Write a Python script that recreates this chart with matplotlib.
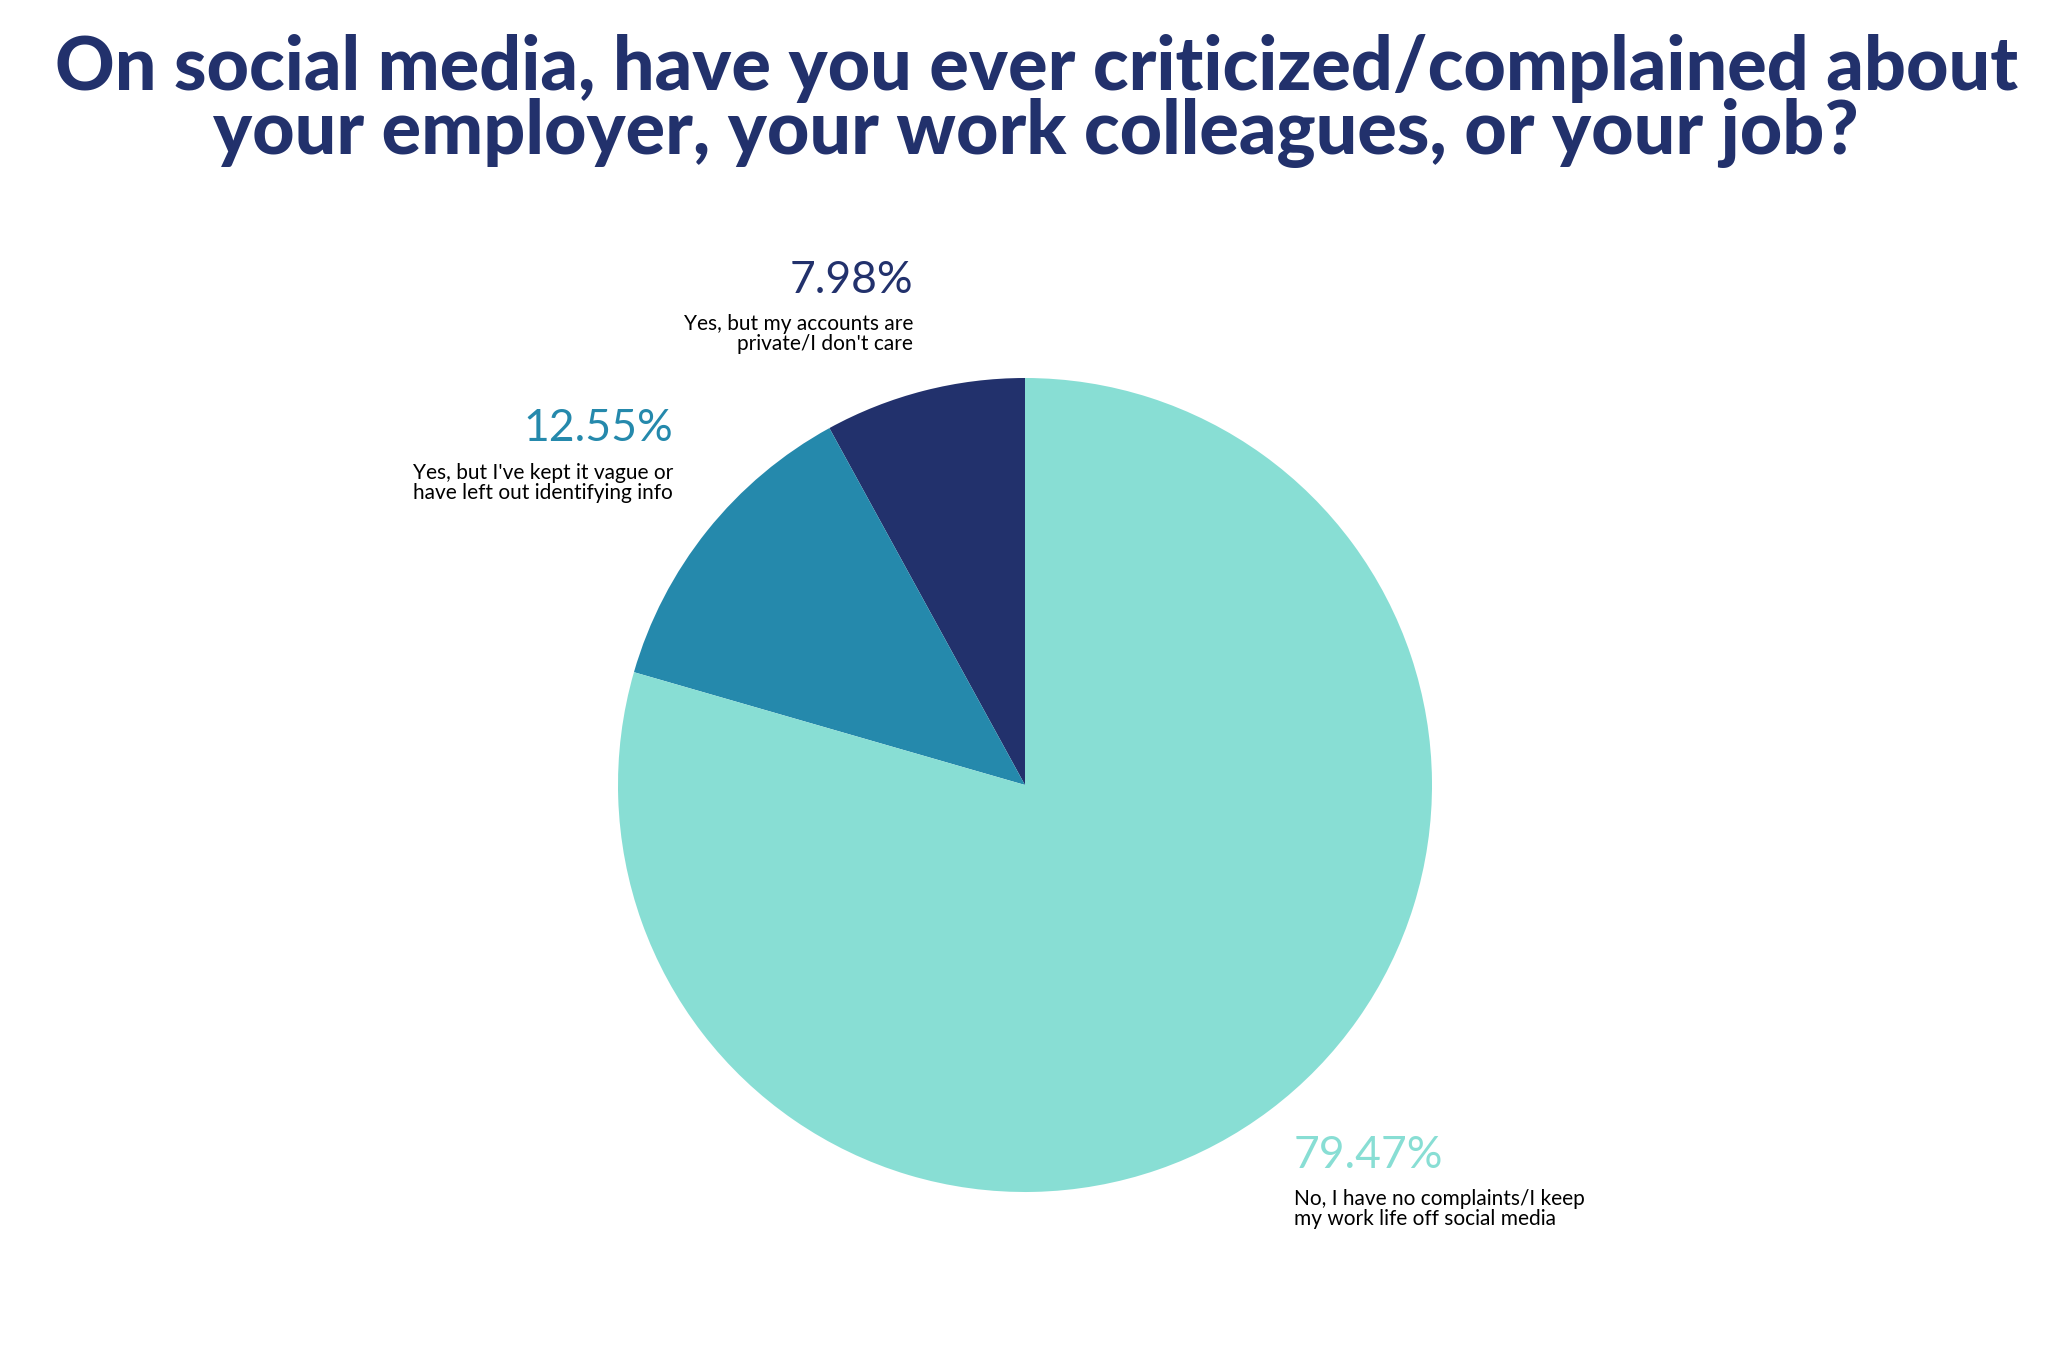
import matplotlib.pyplot as plt

# -----------------------------
# Data
# -----------------------------
title = ("On social media, have you ever criticized/complained about\n"
         "your employer, your work colleagues, or your job?")
labels = ["Yes, but my accounts are\nprivate/I don't care",
          "Yes, but I've kept it vague or\nhave left out identifying info",
          "No, I have no complaints/I keep\nmy work life off social media"]
values = [7.98, 12.55, 79.47]
colors = ["#22316C", "#2589AC", "#88DED4"]

# label anchors in pie data units (x, y, horizontal alignment)
label_pos = [(-0.275, 1.24, "right"), (-0.865, 0.875, "right"), (0.66, -0.91, "left")]

# -----------------------------
# Chart
# -----------------------------
plt.rcParams['font.family'] = ['Lato', 'DejaVu Sans']

fig = plt.figure(figsize=(20.48, 13.64), dpi=100)
fig.patch.set_facecolor("white")

cx, cy, r = 1025, 785, 407
ax = fig.add_axes([(cx - r) / 2048, (1364 - cy - r) / 1364, 2 * r / 2048, 2 * r / 1364])
ax.pie(values, colors=colors, startangle=90, counterclock=True, radius=1,
       wedgeprops=dict(linewidth=0))
ax.set_xlim(-1, 1)
ax.set_ylim(-1, 1)
ax.set_aspect("equal")
ax.axis("off")

for val, lab, col, (x, y, ha) in zip(values, labels, colors, label_pos):
    ax.text(x, y, f"{val:.2f}%", color=col, fontsize=32, ha=ha, va="center",
            clip_on=False)
    ax.text(x, y - 0.083, lab, color="black", fontsize=15, ha=ha, va="top",
            linespacing=1.0, clip_on=False, multialignment=ha)

fig.text(0.506, 0.975, title, ha="center", va="top", fontsize=53,
         fontweight="black", color="#22316C", linespacing=0.9)

plt.savefig("out.png", dpi=100)
plt.close()
